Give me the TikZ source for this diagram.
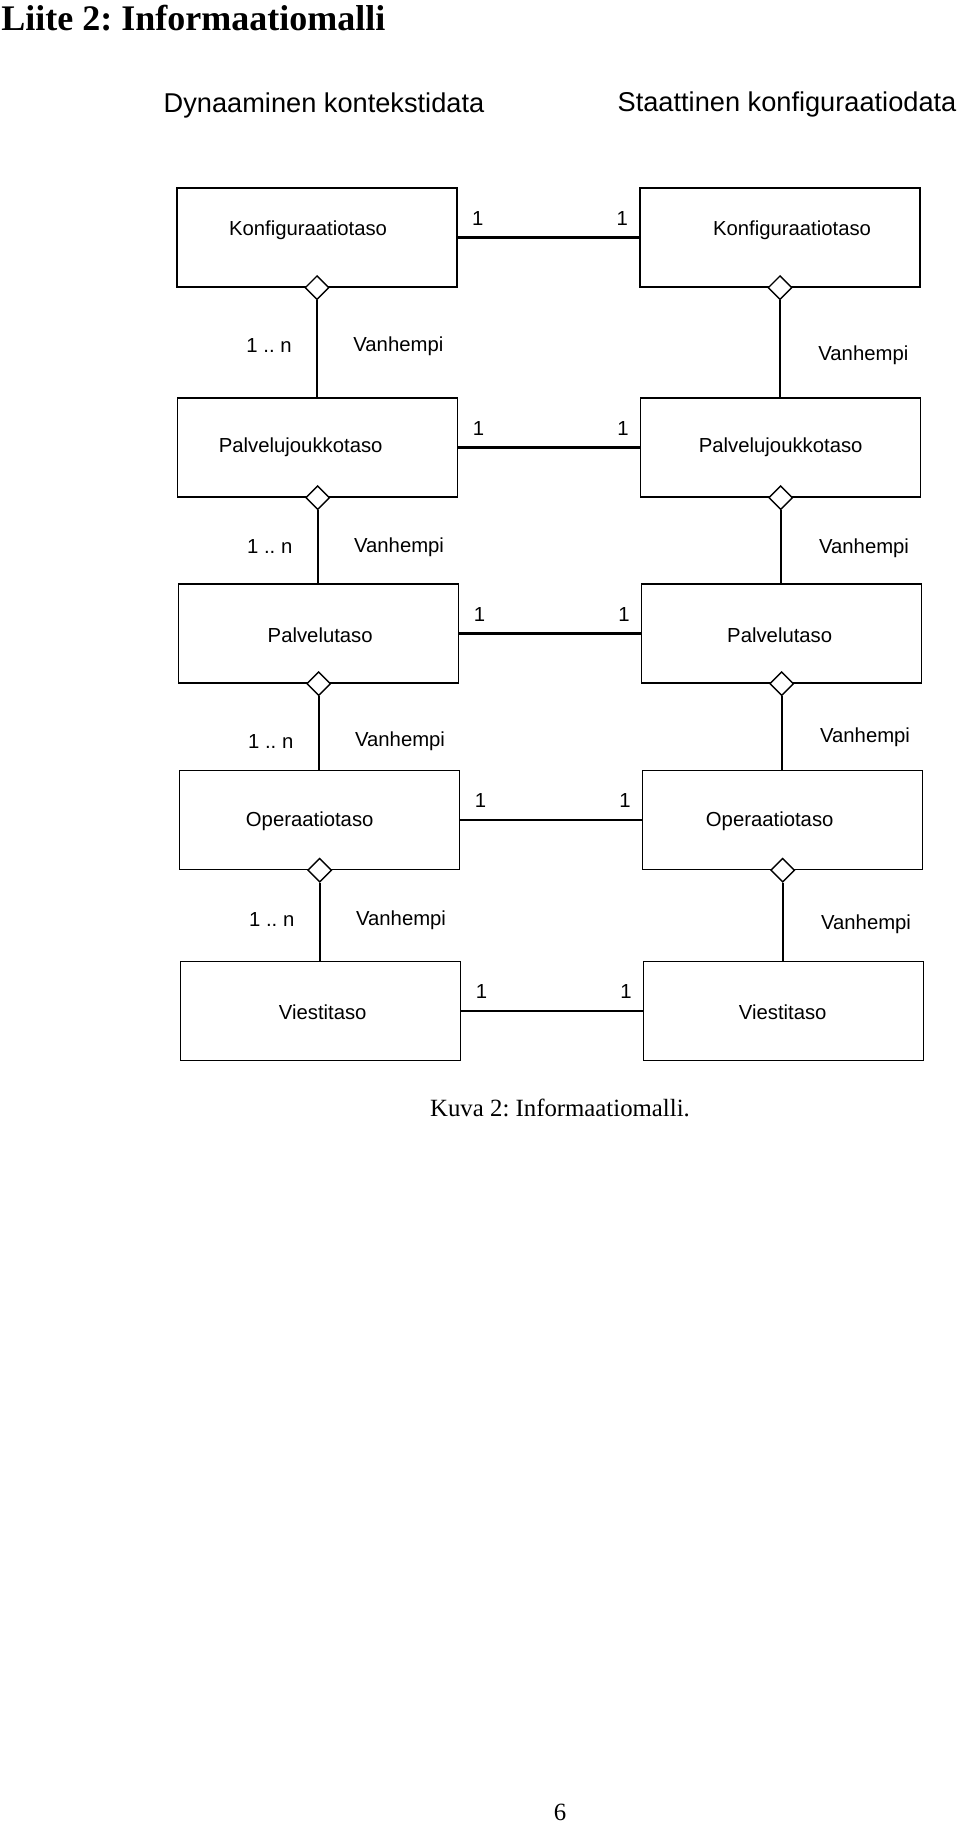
\documentclass[tikz,border=0pt]{standalone}
\usepackage{fontspec}
\setmainfont{Liberation Serif}
\setsansfont{Liberation Sans}
\frenchspacing
\usetikzlibrary{positioning,shapes.geometric}
\tikzset{
    taso/.style={draw, line width=0.7pt, minimum width=140pt, minimum height=49.5pt, inner sep=0pt},
    agg/.style={diamond, draw, fill=white, line width=0.7pt, minimum width=12pt,
        minimum height=12pt, inner sep=0pt},
    link/.style={line width=1.1pt},
    lbl/.style={inner sep=0pt, font=\sffamily\fontsize{10.15}{12}\selectfont},
    otsake/.style={inner sep=0pt, anchor=base, font=\sffamily\fontsize{13.6}{16}\selectfont},
}
\begin{document}
\begin{tikzpicture}[x=0.5pt,y=-0.5pt]
    \useasboundingbox (0,0) rectangle (960,1823);
    \node[anchor=base west, inner sep=0pt, font=\bfseries\fontsize{18}{20}\selectfont] (otsikko) at (1,30.5) {Liite 2: Informaatiomalli};
    \node[otsake] (dyn) at (324,113) {Dynaaminen kontekstidata};
    \node[otsake] (sta) at (787,111.5) {Staattinen konfiguraatiodata};
    % tasot
    \foreach \i/\txt/\yy/\dx/\lx/\rx/\ty in {1/Konfiguraatiotaso/237.5/0/-9/12/-7.5,
        2/Palvelujoukkotaso/447.5/0.7/-17/0/0, 3/Palvelutaso/633.5/1.7/1.5/-2/2,
        4/Operaatiotaso/820/2.7/-10/-13/1.5, 5/Viestitaso/1011/3.7/2/-1/1.5}{
        \node[taso] (L\i) at (317+\dx,\yy) {};
        \node[taso] (R\i) at (780+\dx,\yy) {};
        \node[lbl] (Lt\i) at ([shift={(\lx,\ty)}]L\i.center) {\txt};
        \node[lbl] (Rt\i) at ([shift={(\rx,\ty)}]R\i.center) {\txt};
        \draw[link] (L\i) -- (R\i);
        \node[lbl, above right=6pt and 7pt of L\i.east] (ml\i) {1};
        \node[lbl, above left=6pt and 5.5pt of R\i.west] (mr\i) {1};
    }
    % vanhempi-suhteet
    \foreach \i/\j/\ly/\ry in {1/2/-1.5/3, 2/3/0/0.5, 3/4/4/2, 4/5/-1/1.2}{
        \node[agg] (Ld\i) at (L\i.south) {};
        \node[agg] (Rd\i) at (R\i.south) {};
        \draw[link] (Ld\i.south) -- (Ld\i.south |- L\j.north) coordinate[midway] (Lm\i);
        \draw[link] (Rd\i.south) -- (Rd\i.south |- R\j.north) coordinate[midway] (Rm\i);
        \node[lbl, left=12.5pt of Lm\i, yshift=-\ly pt] (Ln\i) {1 .. n};
        \node[lbl, right=18pt of Lm\i, yshift=-\ly pt] (Lv\i) {Vanhempi};
        \node[lbl, right=19pt of Rm\i, yshift=-\ry pt] (Rv\i) {Vanhempi};
    }
    \node[anchor=base, inner sep=0pt, font=\fontsize{12.4}{14}\selectfont] (kuva) at (560,1116.5) {Kuva 2: Informaatiomalli.};
    \node[anchor=base, inner sep=0pt, font=\fontsize{12.4}{14}\selectfont] (sivu) at (560,1820) {6};
\end{tikzpicture}
\end{document}
